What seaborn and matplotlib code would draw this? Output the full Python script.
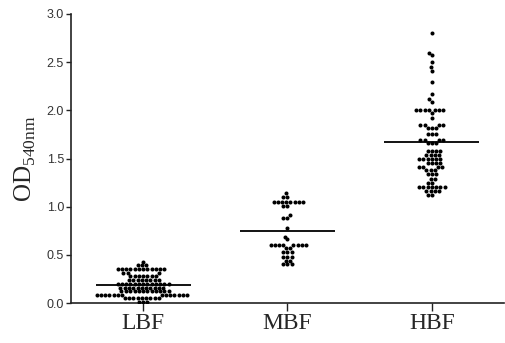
import numpy as np
import pandas as pd
import matplotlib
matplotlib.use('Agg')
import matplotlib.pyplot as plt
import seaborn as sns

# groups and values (row value, count)
groups = ['LBF', 'MBF', 'HBF']

lbf_levels = [0.43, 0.39, 0.35, 0.31, 0.28, 0.24, 0.20, 0.16, 0.12, 0.08, 0.05, 0.01]
lbf_counts = [1, 3, 12, 3, 7, 8, 13, 11, 12, 14, 9, 3]

mbf_levels = [1.14, 1.10, 1.05, 1.01, 0.91, 0.88, 0.78, 0.69, 0.66, 0.60, 0.57, 0.53, 0.48, 0.44, 0.40]
mbf_counts = [1, 2, 8, 2, 1, 2, 1, 1, 1, 8, 2, 3, 3, 2, 3]

hbf_levels = [2.80, 2.60, 2.57, 2.50, 2.45, 2.41, 2.29, 2.17, 2.12, 2.09, 2.00, 1.97, 1.92,
              1.85, 1.82, 1.75, 1.69, 1.66, 1.58, 1.54, 1.50, 1.45, 1.41, 1.38, 1.34,
              1.29, 1.25, 1.20, 1.16, 1.12]
hbf_counts = [1, 1, 1, 1, 1, 1, 1, 1, 1, 1, 7, 1, 1,
              4, 3, 3, 4, 3, 4, 4, 6, 4, 4, 3, 3,
              2, 2, 7, 4, 2]

group_means = [0.19, 0.75, 1.67]

yticks = [0.0, 0.5, 1.0, 1.5, 2.0, 2.5, 3.0]

rows = []
for g, lv, ct in zip(groups, [lbf_levels, mbf_levels, hbf_levels], [lbf_counts, mbf_counts, hbf_counts]):
    for v, c in zip(lv, ct):
        rows += [(g, v)] * c
df = pd.DataFrame(rows, columns=['group', 'od'])

sns.set_style('ticks')
plt.rcParams['mathtext.fontset'] = 'custom'
plt.rcParams['mathtext.rm'] = 'Liberation Serif'

fig = plt.figure(figsize=(5.05, 3.43), dpi=100)
ax = fig.add_axes([0.1406, 0.1166, 0.8574, 0.8426])

sns.swarmplot(data=df, x='group', y='od', order=groups, color='black',
              size=2.9, linewidth=0, ax=ax)

# mean lines
for i, m in enumerate(group_means):
    ax.hlines(m, i - 0.33, i + 0.33, color='black', lw=1.3, zorder=3)

ax.set_xlim(-0.5, 2.5)
ax.set_ylim(0, 3.0)
ax.set_yticks(yticks)
ax.set_yticklabels(['%.1f' % t for t in yticks], family='Liberation Sans',
                   fontsize=9, color='#333333')
ax.set_xticks(range(len(groups)))
ax.set_xticklabels(groups, family='Liberation Serif', fontsize=17)
ax.tick_params(axis='y', length=3.5, width=1, color='#222222', pad=1.5)
ax.tick_params(axis='x', length=5.5, width=1, color='#222222', pad=2)
ax.set_xlabel('')
ax.set_ylabel(r'OD$_{\mathrm{540nm}}$', family='Liberation Serif', fontsize=18, labelpad=6)

sns.despine(ax=ax)
for s in ['left', 'bottom']:
    ax.spines[s].set_linewidth(1.2)
    ax.spines[s].set_color('#222222')

fig.savefig('out.png', dpi=100)
